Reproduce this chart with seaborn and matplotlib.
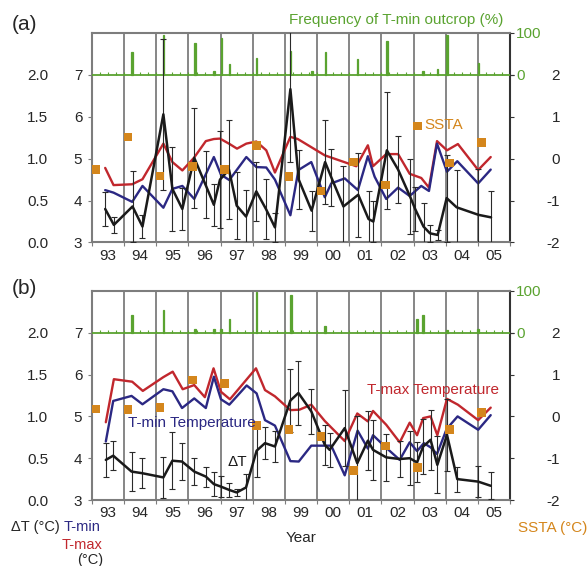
import numpy as np
import matplotlib
matplotlib.use('Agg')
import matplotlib.pyplot as plt
import seaborn as sns

sns.set_style('white')
plt.rcParams['font.family'] = ['Liberation Sans', 'DejaVu Sans']
plt.rcParams['axes.unicode_minus'] = False

years = ['93', '94', '95', '96', '97', '98', '99', '00', '01', '02', '03', '04', '05']

# ---- panel (a) ----
tmax_a_x = [0.41, 0.67, 1.25, 1.57, 2.22, 2.50, 2.81, 3.17, 3.54, 3.79, 3.98, 4.28, 4.51, 4.80, 5.11, 5.42, 5.69,
            6.17, 6.40, 7.24, 8.22, 8.58, 8.74, 9.15, 9.52, 9.88, 10.24, 10.48, 10.73, 11.04, 11.38, 12.01, 12.40]
tmax_a = [4.78, 4.37, 4.39, 4.51, 5.36, 4.92, 4.72, 5.02, 5.42, 5.47, 5.48, 5.35, 5.24, 5.36, 5.41, 5.20, 4.67,
          5.52, 5.47, 5.08, 4.82, 5.32, 4.82, 5.11, 5.11, 4.64, 4.54, 4.31, 5.42, 5.20, 5.35, 4.73, 5.04]
tmin_a_x = [0.41, 0.67, 1.25, 1.57, 2.22, 2.50, 2.81, 3.18, 3.79, 4.01, 4.27, 4.80, 5.11, 5.42, 5.69, 6.17, 6.42,
            6.82, 7.24, 7.44, 7.86, 8.27, 8.58, 8.79, 9.15, 9.52, 9.88, 10.24, 10.48, 10.73, 11.04, 11.36, 12.01, 12.40]
tmin_a = [4.25, 4.19, 3.97, 4.35, 3.83, 4.28, 4.35, 4.04, 5.04, 4.62, 4.49, 5.04, 4.80, 4.79, 4.50, 3.65, 4.73,
          4.92, 4.08, 4.41, 4.53, 4.25, 5.06, 4.57, 4.04, 4.31, 4.11, 4.35, 4.23, 5.36, 4.69, 4.94, 4.41, 4.74]
dt_a_x = [0.41, 0.68, 1.26, 1.57, 2.22, 2.50, 2.81, 3.18, 3.53, 3.79, 3.98, 4.26, 4.50, 4.79, 5.11, 5.41, 5.69,
          6.17, 6.43, 6.83, 7.25, 7.44, 7.82, 8.28, 8.60, 8.75, 9.17, 9.52, 9.89, 10.05, 10.31, 10.51, 10.75,
          11.03, 11.34, 12.02, 12.41]
dt_a = [0.40, 0.21, 0.43, 0.19, 1.53, 0.64, 0.40, 1.01, 0.69, 0.45, 0.75, 0.87, 0.44, 0.31, 0.61, 0.40, 0.18,
        1.83, 0.75, 0.38, 0.96, 0.78, 0.43, 0.57, 0.28, 0.25, 1.10, 0.87, 0.55, 0.40, 0.19, 0.11, 0.09,
        0.53, 0.42, 0.33, 0.30]
dt_a_err = [0.20, 0.10, 0.42, 0.14, 0.90, 0.50, 0.25, 0.60, 0.40, 0.25, 0.58, 0.59, 0.40, 0.32, 0.35, 0.36, 0.17,
            0.87, 0.35, 0.24, 0.50, 0.34, 0.48, 0.50, 0.33, 0.25, 0.70, 0.40, 0.45, 0.26, 0.28, 0.10, 0.06,
            0.52, 0.45, 0.55, 0.32]
freq_a_x = [1.25, 2.22, 3.20, 3.79, 4.02, 4.27, 5.12, 6.18, 6.84, 7.26, 8.26, 9.18, 10.29, 10.75, 11.04, 12.02]
freq_a = [55, 95, 76, 9, 87, 25, 40, 57, 9, 54, 39, 82, 9, 13, 96, 29]
ssta_x = [0.12, 1.12, 2.12, 3.12, 4.12, 5.12, 6.12, 7.12, 8.13, 9.13, 10.12, 11.12, 12.12]
ssta_a = [-0.26, 0.52, -0.41, -0.18, -0.26, 0.31, -0.43, -0.77, -0.08, -0.63, 0.78, -0.10, 0.38]

# ---- panel (b) ----
tmax_b_x = [0.43, 0.68, 1.25, 1.58, 2.22, 2.51, 2.82, 3.18, 3.51, 3.78, 4.01, 4.29, 5.10, 5.38, 5.69, 6.17, 6.45,
            6.82, 7.24, 7.86, 8.25, 8.58, 8.74, 9.15, 9.57, 9.88, 10.11, 10.30, 10.53, 10.74, 11.04, 11.38,
            12.01, 12.40]
tmax_b = [4.86, 5.89, 5.83, 5.61, 5.94, 6.07, 5.65, 5.75, 5.46, 6.15, 5.59, 5.41, 6.15, 5.63, 5.48, 5.15, 5.16,
          5.28, 4.89, 4.41, 5.07, 4.88, 5.13, 4.80, 4.38, 4.85, 4.55, 4.96, 5.00, 4.55, 5.42, 5.28,
          4.91, 5.21]
tmin_b_x = [0.43, 0.66, 1.23, 1.57, 2.22, 2.50, 2.80, 3.18, 3.54, 3.79, 4.01, 4.27, 4.81, 5.12, 5.38, 5.69, 6.17,
            6.43, 6.82, 7.24, 7.44, 7.86, 8.26, 8.58, 8.74, 9.15, 9.57, 9.88, 10.11, 10.32, 10.53, 10.73,
            11.03, 11.37, 12.01, 12.40]
tmin_b = [4.40, 5.37, 5.49, 5.29, 5.65, 5.60, 5.20, 5.43, 5.20, 5.95, 5.41, 5.28, 5.74, 5.55, 4.91, 4.78, 3.93,
          3.92, 4.30, 4.30, 4.30, 3.59, 4.66, 4.23, 4.55, 4.25, 3.96, 4.38, 4.17, 4.36, 4.26, 4.10,
          4.70, 5.00, 4.68, 5.03]
dt_b_x = [0.43, 0.66, 1.23, 1.57, 2.22, 2.50, 2.80, 3.18, 3.54, 3.79, 4.01, 4.27, 4.50, 4.79, 5.12, 5.38, 5.69,
          6.17, 6.42, 6.82, 7.24, 7.39, 7.86, 8.25, 8.58, 8.74, 9.15, 9.57, 9.88, 10.11, 10.30, 10.53, 10.74,
          11.04, 11.36, 12.01, 12.40]
dt_b = [0.48, 0.53, 0.34, 0.32, 0.27, 0.47, 0.46, 0.34, 0.28, 0.19, 0.16, 0.12, 0.09, 0.15, 0.59, 0.68, 0.64,
        1.19, 1.28, 1.06, 0.66, 0.60, 0.86, 0.44, 0.71, 0.60, 0.51, 0.49, 0.50, 0.45, 0.64, 0.72, 0.42,
        0.78, 0.25, 0.22, 0.17]
dt_b_err = [0.20, 0.17, 0.23, 0.18, 0.25, 0.34, 0.22, 0.16, 0.12, 0.14, 0.13, 0.08, 0.04, 0.16, 0.31, 0.19, 0.18,
            0.38, 0.38, 0.27, 0.24, 0.20, 0.45, 0.56, 0.35, 0.36, 0.28, 0.21, 0.32, 0.24, 0.33, 0.36, 0.34,
            0.43, 0.15, 0.19, 0.16]
freq_b_x = [1.25, 2.22, 3.20, 3.79, 4.01, 4.27, 5.12, 6.19, 7.24, 10.11, 10.29, 11.04, 12.00]
freq_b = [43, 54, 8, 8, 10, 33, 98, 90, 16, 32, 42, 7, 10]
ssta_b = [0.18, 0.16, 0.21, 0.87, 0.79, -0.22, -0.32, -0.48, -1.30, -0.71, -1.22, -0.31, 0.10]

RED = '#c1272d'
BLUE = '#2b2883'
BLACK = '#1a1a1a'
ORANGE = '#d4861c'
GREEN = '#5aa330'
GRID = '#7d7d7d'
FS = 11

fig = plt.figure(figsize=(5.88, 5.66), dpi=100)
W, H = 588, 566


def fx(px):
    return px / W


def fy(py):
    return 1 - py / H


def draw_panel(top, bottom, tmax_x, tmax, tmin_x, tmin, dt_x, dt, dt_err, fq_x, fq, ssta):
    rect = [fx(92), fy(bottom), (510 - 92) / W, (bottom - top) / H]
    ax = fig.add_axes(rect)
    sns.lineplot(x=tmax_x, y=tmax, ax=ax, color=RED, lw=1.7, sort=False, estimator=None)
    sns.lineplot(x=tmin_x, y=tmin, ax=ax, color=BLUE, lw=1.7, sort=False, estimator=None)
    ax.set_xlim(0, 13)
    ax.set_ylim(3, 8)
    ax.set_yticks([3, 4, 5, 6, 7])
    ax.set_xticks(range(14), labels=[''] * 14)
    ax.set_xticks(np.arange(0.5, 13), labels=years, minor=True)
    ax.tick_params(axis='x', which='major', direction='out', length=3, color=GRID, bottom=True)
    ax.tick_params(axis='x', which='minor', length=0, pad=4.5, labelsize=FS)
    ax.tick_params(axis='y', direction='out', length=3, color=GRID, pad=4, labelsize=FS, left=True)
    ax.grid(axis='x', which='major', color=GRID, lw=1.3)
    for s in ['left', 'top', 'bottom']:
        ax.spines[s].set_color(GRID)
        ax.spines[s].set_linewidth(1.5)
    ax.spines['right'].set_color('#333333')
    ax.spines['right'].set_linewidth(1.5)

    # frequency of T-min outcrop
    axf = ax.twinx()
    axf.bar(fq_x, fq, width=0.045, color=GREEN, edgecolor=GREEN, linewidth=0.9)
    axf.axhline(0, color=GREEN, lw=1.3)
    axf.vlines(np.arange(0.25, 13, 0.25), 0, 6, color=GREEN, lw=0.8)
    axf.set_ylim(-400, 100)
    axf.set_yticks([0, 100])
    axf.tick_params(axis='y', length=3, color='#333333', pad=1.5, labelsize=FS, labelcolor=GREEN)

    # delta T on the outer left scale
    axd = ax.twinx()
    axd.errorbar(dt_x, dt, yerr=dt_err, fmt='none', ecolor='#2a2a2a', elinewidth=0.8,
                 capsize=2.3, capthick=0.8)
    sns.lineplot(x=dt_x, y=dt, ax=axd, color=BLACK, lw=1.8, sort=False, estimator=None)
    axd.set_ylim(0, 2.5)
    axd.yaxis.tick_left()
    axd.set_yticks([0, 0.5, 1, 1.5, 2], labels=['0.0', '0.5', '1.0', '1.5', '2.0'])
    axd.tick_params(axis='y', length=0, pad=31.5, labelsize=FS)

    # SSTA on the outer right scale
    axs = ax.twinx()
    sns.scatterplot(x=ssta_x, y=ssta, ax=axs, color=ORANGE, marker='s', s=38, edgecolor='none')
    axs.set_ylim(-2, 3)
    axs.set_yticks([-2, -1, 0, 1, 2])
    axs.tick_params(axis='y', length=3, color='#333333', pad=33, labelsize=FS)
    for lb in axs.get_yticklabels():
        lb.set_ha('right')

    for a in (axf, axd, axs):
        a.set_xlim(0, 13)
        for s in a.spines.values():
            s.set_visible(False)
    return ax


draw_panel(33, 242.5, tmax_a_x, tmax_a, tmin_a_x, tmin_a, dt_a_x, dt_a, dt_a_err, freq_a_x, freq_a, ssta_a)
draw_panel(291, 500, tmax_b_x, tmax_b, tmin_b_x, tmin_b, dt_b_x, dt_b, dt_b_err, freq_b_x, freq_b, ssta_b)

fig.text(fx(12), fy(25), '(a)', fontsize=15, va='center')
fig.text(fx(12), fy(288), '(b)', fontsize=15, va='center')
fig.text(fx(396), fy(20), 'Frequency of T-min outcrop (%)', color=GREEN, fontsize=FS, ha='center', va='center')
fig.text(fx(424), fy(125), 'SSTA', color=ORANGE, fontsize=FS, va='center')
fig.text(fx(367), fy(390), 'T-max Temperature', color=RED, fontsize=FS, va='center')
fig.text(fx(128), fy(423), 'T-min Temperature', color=BLUE, fontsize=FS, va='center')
fig.text(fx(227), fy(462), 'ΔT', color=BLACK, fontsize=FS, va='center')
fig.text(fx(301), fy(538), 'Year', fontsize=FS, ha='center', va='center')
fig.text(fx(11), fy(527), 'ΔT (°C)', fontsize=10.5, va='center')
fig.text(fx(64), fy(527), 'T-min', color=BLUE, fontsize=10.5, va='center')
fig.text(fx(62), fy(545), 'T-max', color=RED, fontsize=10.5, va='center')
fig.text(fx(77), fy(560), '(°C)', fontsize=10.5, va='center')
fig.text(fx(518), fy(528), 'SSTA (°C)', color=ORANGE, fontsize=FS, va='center')

fig.savefig('out.png', dpi=100)
